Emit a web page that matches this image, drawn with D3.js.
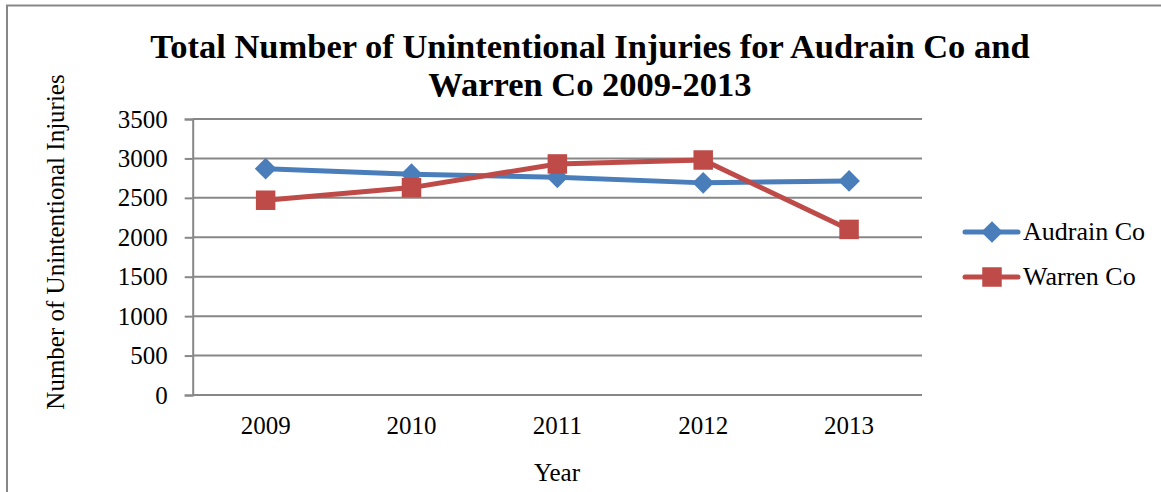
<!DOCTYPE html>
<html>
<head>
<meta charset="utf-8">
<script src="https://cdn.jsdelivr.net/npm/d3@7"></script>
<style>
  html, body { margin: 0; padding: 0; background: #fff; }
  svg text { font-family: "Liberation Serif", "Times New Roman", serif; fill: #000; }
</style>
</head>
<body>
<svg id="chart" width="1161" height="492"></svg>
<script>
const years = ["2009", "2010", "2011", "2012", "2013"];
const audrain = [2870, 2800, 2760, 2690, 2715];
const warren = [2470, 2630, 2930, 2980, 2100];
const yTicks = [0, 500, 1000, 1500, 2000, 2500, 3000, 3500];
const seriesNames = ["Audrain Co", "Warren Co"];
const titleLines = ["Total Number of Unintentional Injuries for Audrain Co and", "Warren Co 2009-2013"];

const colors = { "Audrain Co": "#4A7EBB", "Warren Co": "#BE4B48" };
const series = [
  { name: seriesNames[0], values: audrain, shape: "diamond" },
  { name: seriesNames[1], values: warren, shape: "square" }
];

const svg = d3.select("#chart");
const grey = "#878787";
const serif = "'Liberation Serif', 'Times New Roman', serif";

// outer border
svg.append("rect").attr("x", 7).attr("y", 5.5).attr("width", 1170).attr("height", 500)
  .attr("fill", "none").attr("stroke", grey).attr("stroke-width", 2);

const mLeft = 192.7, mRight = 922, mTop = 119, mBottom = 395;
const x = d3.scaleBand().domain(years).range([mLeft, mRight]);
const y = d3.scaleLinear().domain([0, 3500]).range([mBottom, mTop]);

// gridlines
svg.append("g").selectAll("line").data(yTicks).join("line")
  .attr("x1", mLeft).attr("x2", mRight)
  .attr("y1", d => y(d)).attr("y2", d => y(d))
  .attr("stroke", grey).attr("stroke-width", 2);

// y axis
const yAxis = d3.axisLeft(y).tickValues(yTicks).tickSize(8).tickPadding(17).tickFormat(d3.format("d"));
const gy = svg.append("g").attr("transform", `translate(${mLeft},0)`).call(yAxis)
  .attr("font-family", serif).attr("font-size", 25);
gy.select(".domain").attr("stroke", grey).attr("stroke-width", 2);
gy.selectAll(".tick line").attr("stroke", grey).attr("stroke-width", 2);
gy.selectAll(".tick text").style("font-family", serif).style("font-size", "25px").attr("fill", "#000");

// x axis labels
const xAxis = d3.axisBottom(x).tickSize(0).tickPadding(21);
const gx = svg.append("g").attr("transform", `translate(0,${mBottom})`).call(xAxis)
  .attr("font-family", serif).attr("font-size", 25);
gx.select(".domain").remove();
gx.selectAll(".tick text").style("font-family", serif).style("font-size", "25px").attr("fill", "#000");

// lines
const line = d3.line().x((d, i) => x(years[i]) + x.bandwidth() / 2).y(d => y(d));
const symDiamond = d3.symbol().type(d3.symbolDiamond2).size(300);
const symSquare = d3.symbol().type(d3.symbolSquare).size(380);

series.forEach(s => {
  svg.append("path").datum(s.values).attr("d", line)
    .attr("fill", "none").attr("stroke", colors[s.name]).attr("stroke-width", 5)
    .attr("stroke-linejoin", "round").attr("stroke-linecap", "round");
  svg.append("g").selectAll("path").data(s.values).join("path")
    .attr("transform", (d, i) => `translate(${x(years[i]) + x.bandwidth() / 2},${y(d)})`)
    .attr("d", s.shape === "diamond" ? symDiamond : symSquare)
    .attr("fill", colors[s.name]);
});

// title
const title = svg.append("text").attr("text-anchor", "middle").style("font-size", "34.5px").style("font-weight", "bold");
titleLines.forEach((t, i) => {
  title.append("tspan").attr("x", 590).attr("y", 58 + i * 38).text(t);
});

// axis titles
svg.append("text").attr("text-anchor", "middle").attr("x", 557).attr("y", 481)
  .style("font-size", "25px").text("Year");
svg.append("text").attr("text-anchor", "middle")
  .attr("transform", "translate(64,242) rotate(-90)")
  .style("font-size", "25px").text("Number of Unintentional Injuries");

// legend
const lg = svg.append("g");
series.forEach((s, i) => {
  const ly = 232 + i * 45;
  lg.append("line").attr("x1", 965).attr("x2", 1018).attr("y1", ly).attr("y2", ly)
    .attr("stroke", colors[s.name]).attr("stroke-width", 5).attr("stroke-linecap", "round");
  lg.append("path").attr("transform", `translate(992,${ly})`)
    .attr("d", s.shape === "diamond" ? symDiamond : symSquare).attr("fill", colors[s.name]);
  lg.append("text").attr("x", 1023).attr("y", ly + 8).style("font-size", "26px").text(s.name);
});
</script>
</body>
</html>
